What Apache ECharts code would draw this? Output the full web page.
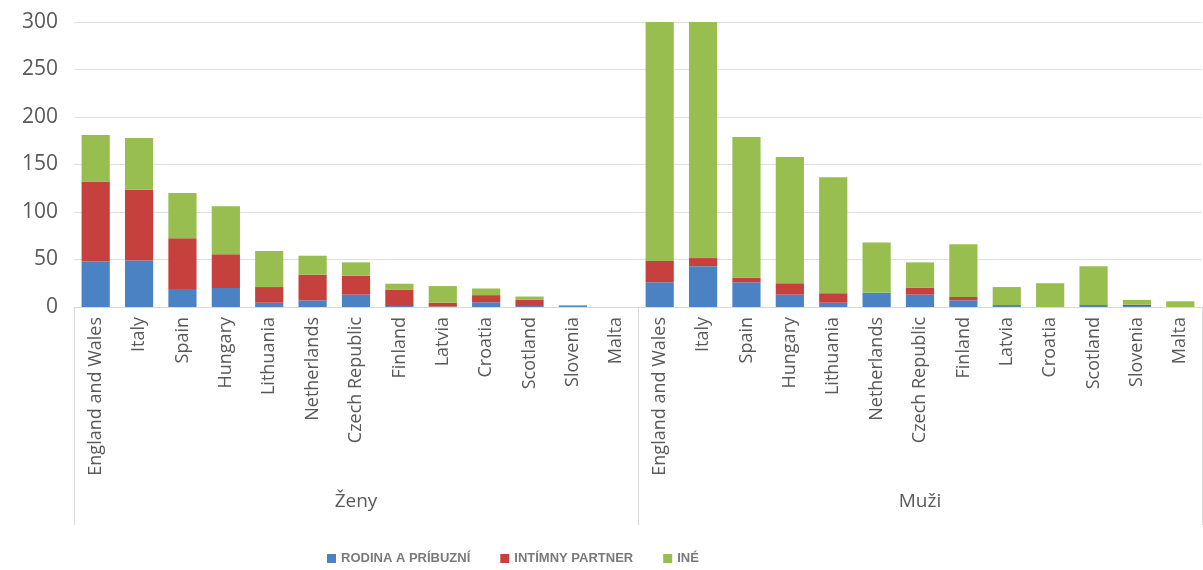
<!DOCTYPE html>
<html>
<head>
<meta charset="utf-8">
<script src="https://cdn.jsdelivr.net/npm/echarts@6/dist/echarts.min.js"></script>
<style>html,body{margin:0;padding:0;background:#fff}#c{width:1203px;height:570px}</style>
</head>
<body>
<div id="c"></div>
<script>
const countries = ['England and Wales','Italy','Spain','Hungary','Lithuania','Netherlands','Czech Republic','Finland','Latvia','Croatia','Scotland','Slovenia','Malta'];
const groups = ['Ženy','Muži'];
const seriesNames = ['RODINA A PRÍBUZNÍ','INTÍMNY PARTNER','INÉ'];
const yTicks = [0,50,100,150,200,250,300];

const zenyRodina  = [48, 49, 19, 20, 4.5, 7, 13, 1, 0.5, 5, 1, 1, 0];
const zenyPartner = [84, 74.5, 53.5, 35.5, 16.5, 27, 20, 17, 4, 7.5, 6.5, 0, 0];
const zenyIne     = [49, 54.5, 47.5, 50.5, 38, 20, 14, 6.5, 17.5, 7, 3.5, 1, 0];

const muziRodina  = [26, 43, 26, 13, 4.5, 15, 13, 7, 1, 0, 1, 1, 0];
const muziPartner = [22.5, 8.5, 5, 12, 10, 0, 7.5, 3.5, 1, 0, 1, 1.5, 0];
const muziIne     = [262, 258, 148, 133, 122, 53, 26.5, 55.5, 19, 25, 41, 5, 6];

const cats = countries.concat(countries);
const colors = ['#4a82c3','#c6403e','#97be4f'];
const dataSets = [
  zenyRodina.concat(muziRodina),
  zenyPartner.concat(muziPartner),
  zenyIne.concat(muziIne)
];

const chart = echarts.init(document.getElementById('c'));
chart.setOption({
  animation: false,
  color: colors,
  textStyle: { fontFamily: 'Open Sans' },
  grid: { left: 74, right: 1, top: 22, bottom: 263, containLabel: false },
  legend: {
    bottom: 0, left: 322,
    itemWidth: 9, itemHeight: 9, itemGap: 30,
    icon: 'rect',
    textStyle: { color: '#7a7a7a', fontSize: 13, fontFamily: 'Liberation Sans', fontWeight: 'bold' },
    data: seriesNames
  },
  xAxis: [
    {
      type: 'category', data: cats, position: 'bottom',
      axisLine: { lineStyle: { color: '#d9d9d9' } },
      axisTick: { show: false },
      axisLabel: { rotate: 90, interval: 0, color: '#595959', fontSize: 18, margin: 10 }
    },
    {
      type: 'category', data: groups, position: 'bottom', offset: 218,
      axisLine: { show: false },
      axisTick: { show: true, inside: true, length: 218, lineStyle: { color: '#d9d9d9' } },
      axisLabel: { inside: true, margin: 14, color: '#595959', fontSize: 19 }
    }
  ],
  yAxis: {
    type: 'value', min: 0, max: 300, interval: 50,
    axisLine: { show: false }, axisTick: { show: false },
    axisLabel: { color: '#595959', fontSize: 21, margin: 16,
      formatter: v => yTicks.includes(v) ? String(v) : '' },
    splitLine: { lineStyle: { color: '#e0e0e0' } }
  },
  series: seriesNames.map((n, i) => ({
    name: n, type: 'bar', stack: 'all', xAxisIndex: 0,
    barCategoryGap: '35%', data: dataSets[i], clip: true
  }))
});
</script>
</body>
</html>
